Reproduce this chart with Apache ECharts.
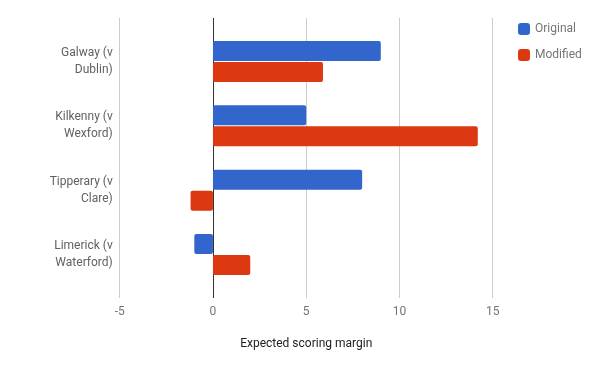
<!DOCTYPE html>
<html><head><meta charset="utf-8">
<script src="https://cdn.jsdelivr.net/npm/echarts@6/dist/echarts.min.js"></script>
<style>html,body{margin:0;padding:0;background:#fff}#c{width:600px;height:371px}</style>
</head><body><div id="c"></div>
<script>
const categories = ['Galway (v\nDublin)', 'Kilkenny (v\nWexford)', 'Tipperary (v\nClare)', 'Limerick (v\nWaterford)'];
const originalValues = [9.0, 5.0, 8.0, -1.0];
const modifiedValues = [5.9, 14.2, -1.2, 2.0];
const xTicks = [-5, 0, 5, 10, 15];
const seriesNames = ['Original', 'Modified'];
const axisTitle = 'Expected scoring margin';

const chart = echarts.init(document.getElementById('c'), null, {renderer: 'canvas'});
const font = 'Roboto, Arial, sans-serif';
chart.setOption({
  animation: false,
  textStyle: {fontFamily: font},
  color: ['#3366cc', '#dc3912'],
  legend: {
    orient: 'vertical', left: 513, top: 18,
    itemWidth: 12, itemHeight: 12, itemGap: 14,
    icon: 'roundRect',
    textStyle: {color: '#757575', fontSize: 12, fontFamily: font},
    data: seriesNames
  },
  grid: [
    {left: 119.7, right: 107.3, top: 18, bottom: 73},
    {left: 119.7, right: 107.3, top: 29.3, height: 257.4}
  ],
  xAxis: [
    {type: 'value', gridIndex: 0, min: xTicks[0], max: xTicks[xTicks.length-1], interval: 5,
     axisLine: {show: false}, axisTick: {show: false},
     axisLabel: {color: '#757575', fontSize: 12, margin: 8, fontFamily: font},
     splitLine: {show: true, lineStyle: {color: ['#cccccc', '#333333', '#cccccc', '#cccccc', '#cccccc'], width: 1}},
     name: axisTitle, nameLocation: 'middle', nameGap: 40,
     nameTextStyle: {color: '#222', fontSize: 12, fontFamily: font}},
    {type: 'value', gridIndex: 1, min: xTicks[0], max: xTicks[xTicks.length-1], interval: 5,
     show: false, splitLine: {show: false}}
  ],
  yAxis: [
    {type: 'category', gridIndex: 0, data: ['x'], show: false},
    {type: 'category', gridIndex: 1, data: categories, inverse: true,
     axisLine: {show: false}, axisTick: {show: false},
     axisLabel: {color: '#616161', fontSize: 12, margin: 7, lineHeight: 17, padding: [4, 0, 0, 0], fontFamily: font, align: 'right'}}
  ],
  series: [
    {name: seriesNames[0], type: 'bar', xAxisIndex: 1, yAxisIndex: 1, data: originalValues,
     barWidth: 20, barGap: '5%', itemStyle: {borderRadius: 2}},
    {name: seriesNames[1], type: 'bar', xAxisIndex: 1, yAxisIndex: 1, data: modifiedValues,
     barWidth: 20, barGap: '5%', itemStyle: {borderRadius: 2}}
  ]
});
</script></body></html>
